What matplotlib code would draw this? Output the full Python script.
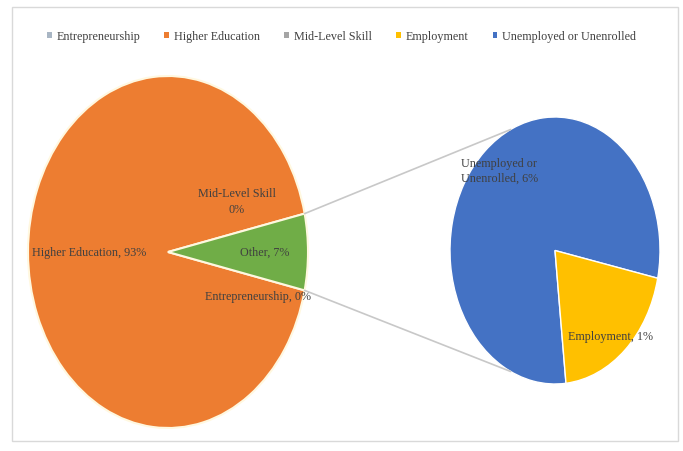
import matplotlib.pyplot as plt
import numpy as np
from matplotlib.patches import Patch, Rectangle, ConnectionPatch

plt.rcParams['font.family'] = ['Liberation Serif', 'DejaVu Serif']

# outcomes share (%), main pie groups the small ones into "Other"
main_labels = ['Higher Education', 'Other']
main_values = [93, 7]
other_labels = ['Unemployed or\nUnenrolled', 'Employment']
other_values = [5.6, 1.4]
zero_labels = ['Mid-Level Skill', 'Entrepreneurship']
zero_values = [0, 0]

legend_labels = ['Entrepreneurship', 'Higher Education', 'Mid-Level Skill',
                 'Employment', 'Unemployed or Unenrolled']
legend_colors = ['#A9B6C4', '#ED7D31', '#A5A5A5', '#FFC000', '#4472C4']

text_col = '#404040'
fs = 8.7
W, H = 683, 452

fig = plt.figure(figsize=(W / 100, H / 100), dpi=100)

# chart border
fig.patches.append(Rectangle((12 / W, 10 / H), 666 / W, 434 / H,
                             transform=fig.transFigure, fill=False,
                             edgecolor='#D9D9D9', linewidth=1))


def pie_axes(cx, cy, rx, ry):
    ax = fig.add_axes([(cx - rx) / W, (H - cy - ry) / H, 2 * rx / W, 2 * ry / H])
    return ax


# main pie
ax1 = pie_axes(168, 253, 140, 176)
half = main_values[1] / 100 * 360 / 2
ax1.pie(main_values, colors=['#ED7D31', '#70AD47'], startangle=half,
        radius=1, wedgeprops=dict(edgecolor='#FFF8E0', linewidth=1.5))
ax1.set_aspect('auto')
ax1.set_xlim(-1, 1)
ax1.set_ylim(-1, 1)
ax1.text(-0.56, 0, f'{main_labels[0]}, {main_values[0]}%', ha='center',
         va='center', fontsize=fs, color=text_col)
ax1.text(0.69, 0, f'{main_labels[1]}, {main_values[1]}%', ha='center',
         va='center', fontsize=fs, color=text_col)
ax1.text(0.49, 0.29, f'{zero_labels[0]}\n{zero_values[0]}%', ha='center',
         va='center', fontsize=fs, color=text_col, linespacing=1.4)
ax1.text(0.64, -0.25, f'{zero_labels[1]}, {zero_values[1]}%', ha='center',
         va='center', fontsize=fs, color=text_col)

# secondary pie for the "Other" slice
ax2 = pie_axes(555, 251.5, 105, 133.5)
ax2.pie(other_values, colors=['#4472C4', '#FFC000'], startangle=-12,
        radius=1, wedgeprops=dict(edgecolor='white', linewidth=1))
ax2.set_aspect('auto')
ax2.set_xlim(-1, 1)
ax2.set_ylim(-1, 1)
ax2.text(-0.9, 0.6, f'{other_labels[0]}, {other_values[0]:.0f}%', ha='left',
         va='center', fontsize=fs, color=text_col, linespacing=1.4)
ax2.text(0.12, -0.64, f'{other_labels[1]}, {other_values[1]:.0f}%', ha='left',
         va='center', fontsize=fs, color=text_col)

# connector lines
for sign in (1, -1):
    a1 = np.radians(sign * half)
    a2 = np.radians(sign * 115)
    con = ConnectionPatch(xyA=(np.cos(a1), np.sin(a1)), coordsA=ax1.transData,
                          xyB=(np.cos(a2), np.sin(a2)), coordsB=ax2.transData,
                          color='#C8C8C8', linewidth=1.2)
    fig.add_artist(con)

handles = [Patch(facecolor=c, edgecolor='none') for c in legend_colors]
fig.legend(handles, legend_labels, loc='center', bbox_to_anchor=(0.5, 1 - 37 / H),
           ncol=5, frameon=False, fontsize=fs, handlelength=0.4, handleheight=0.4,
           handletextpad=0.4, columnspacing=2.0, labelcolor=text_col)

fig.savefig('out.png', dpi=100)
